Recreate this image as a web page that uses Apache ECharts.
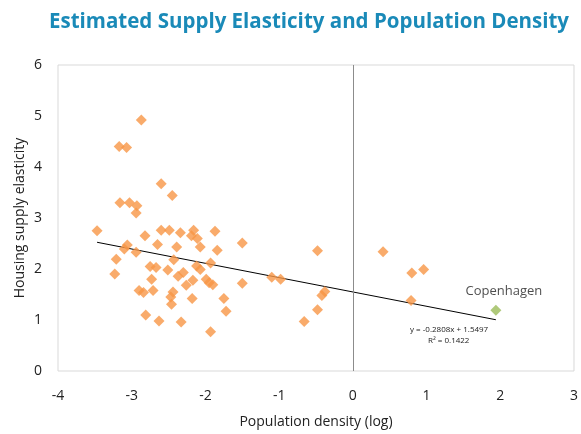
<!DOCTYPE html>
<html><head><meta charset="utf-8">
<script src="https://cdn.jsdelivr.net/npm/echarts@6/dist/echarts.min.js"></script>
<style>html,body{margin:0;padding:0;background:#fff}#c{width:581px;height:434px}</style>
</head><body><div id="c"></div>
<script>
const density = [-2.87,-3.17,-3.07,-2.60,-2.45,-3.16,-3.03,-2.93,-2.94,-3.47,-2.82,-2.60,-2.49,-2.34,-2.16,-2.19,-2.11,-1.87,-1.50,
 -2.65,-2.39,-2.07,-1.84,-3.06,-3.10,-2.94,-3.21,-2.43,-1.93,-2.75,-2.67,-2.51,-2.12,-2.07,-3.23,-2.37,-2.30,-2.73,-2.17,
 -1.99,-1.95,-1.90,-2.26,-1.50,-2.90,-2.84,-2.71,-2.44,-2.47,-2.18,-2.46,-1.75,-1.72,-2.81,-2.63,-2.33,-1.93,
 -0.48,0.41,0.80,0.96,-1.10,-0.98,-0.38,-0.42,-0.48,-0.66,0.79];
const elasticity = [4.92,4.40,4.38,3.67,3.44,3.30,3.30,3.24,3.10,2.75,2.65,2.76,2.76,2.71,2.76,2.65,2.60,2.74,2.51,
 2.48,2.43,2.43,2.37,2.47,2.39,2.33,2.19,2.18,2.12,2.05,2.03,1.98,2.06,1.99,1.90,1.86,1.93,1.80,1.78,
 1.80,1.73,1.69,1.68,1.72,1.58,1.54,1.58,1.55,1.45,1.42,1.31,1.42,1.17,1.10,0.98,0.96,0.77,
 2.36,2.34,1.92,1.99,1.84,1.80,1.56,1.48,1.20,0.97,1.38];
const cphDensity = [1.94];
const cphElasticity = [1.19];
const cphName = 'Copenhagen';
const trendSlope = -0.2808, trendIntercept = 1.5497, trendR2 = 0.1422;
const trendRange = [-3.47, 1.94];
const xTicks = [-4,-3,-2,-1,0,1,2,3];
const yTicks = [0,1,2,3,4,5,6];

const pts = density.map((d,i)=>[d, elasticity[i]]);
const cph = cphDensity.map((d,i)=>[d, cphElasticity[i]]);
const trend = trendRange.map(x=>[x, trendSlope*x + trendIntercept]);

const chart = echarts.init(document.getElementById('c'), null, {renderer:'canvas'});
const font = '"Open Sans", "DejaVu Sans", sans-serif';
chart.setOption({
  animation:false,
  title:{text:'Estimated Supply Elasticity and Population Density', left:304, textAlign:'center', top:7,
    textStyle:{color:'#1a8ab8', fontSize:20.5, fontWeight:'bold', fontFamily:font}},
  grid:{left:58, right:7, top:65, bottom:57, show:true, borderColor:'#d9d9d9', borderWidth:1},
  xAxis:{type:'value', min:xTicks[0], max:xTicks[xTicks.length-1], interval:1,
    name:'Population density (log)', nameLocation:'middle', nameGap:44, nameMoveOverlap:false,
    nameTextStyle:{fontSize:14, color:'#222', fontFamily:font},
    axisLine:{show:false}, axisTick:{show:false}, splitLine:{show:false},
    axisLabel:{fontSize:14, color:'#222', margin:18, fontFamily:font}},
  yAxis:{type:'value', min:yTicks[0], max:yTicks[yTicks.length-1], interval:1,
    name:'Housing supply elasticity', nameLocation:'middle', nameGap:31, nameMoveOverlap:false,
    nameTextStyle:{fontSize:14, color:'#222', fontFamily:font},
    axisLine:{show:false}, axisTick:{show:false}, splitLine:{show:false},
    axisLabel:{fontSize:14, color:'#222', margin:16, fontFamily:font}},
  series:[
    {type:'line', data:trend, symbol:'none', lineStyle:{color:'#000', width:1}, z:3,
     markLine:{silent:true, symbol:'none', label:{show:false}, lineStyle:{color:'#8c8c8c', width:1, type:'solid'},
       data:[{xAxis:0}]}},
    {type:'scatter', data:pts, symbol:'diamond', symbolSize:11, itemStyle:{color:'#F79646'}, z:4},
    {type:'scatter', data:cph, symbol:'diamond', symbolSize:11, itemStyle:{color:'#9BBB59'}, z:4,
     label:{show:true, formatter:cphName, position:'top', offset:[8,-2], fontSize:13, color:'#222', fontFamily:font}}
  ],
  graphic:[
    {type:'text', left:410, top:326, style:{text:'y = -0.2808x + 1.5497', fontSize:8, fill:'#222', fontFamily:font}},
    {type:'text', left:428, top:337, style:{text:'R² = 0.1422', fontSize:8, fill:'#222', fontFamily:font}}
  ]
});
</script></body></html>
